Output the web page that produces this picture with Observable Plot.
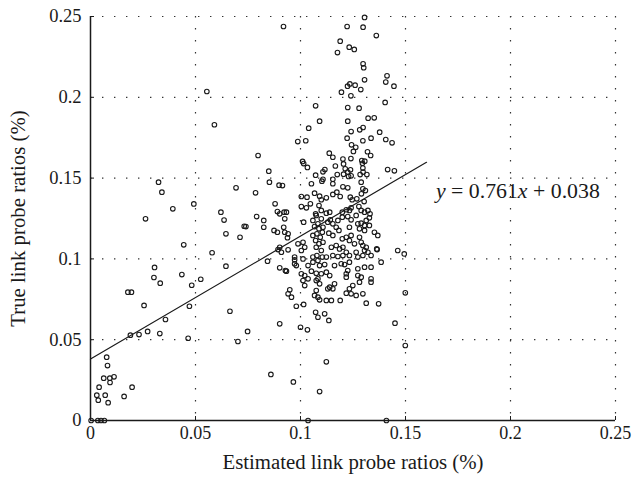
<!DOCTYPE html>
<html>
<head>
<meta charset="utf-8">
<script src="https://cdn.jsdelivr.net/npm/d3@7"></script>
<script src="https://cdn.jsdelivr.net/npm/@observablehq/plot@0.6"></script>
<style>
  html, body { margin: 0; padding: 0; background: #fff; }
</style>
</head>
<body>
<div id="chart"></div>
<script>
// ---- data ----
const estX = [
0.0554,0.059,
0.0324,0.034,0.0693,0.0492,0.0392,0.0621,0.0636,0.0262,0.0732,0.0645,0.0712,0.0444,0.0579,0.0305,0.0645,0.0302,0.0435,0.0332,0.0525,0.0482,
0.0178,0.0195,0.0255,0.0471,0.0664,0.0357,0.019,0.0231,0.0272,0.033,0.0465,0.0702,0.0077,0.0081,0.0063,0.0092,0.0112,0.0093,0.0041,0.0198,0.003,0.007,0.0037,0.0084,0.016,0.0003,0.0035,0.005,0.0066,0.1036,0.1409,
0.1305,0.0919,0.1222,0.1298,0.1361,0.1189,0.1232,0.1256,0.1176,0.1298,0.1301,0.1412,0.1406,0.1445,0.1305,0.1235,0.1224,0.126,0.1287,0.1195,0.124,0.1403,0.1072,0.1225,0.1279,0.1322,0.1351,0.1091,0.1225,0.1039,0.1241,0.1282,0.1298,0.1377,0.1222,0.1336,0.1297,0.1406,0.1436,0.0987,0.1025,0.1243,0.1263,
0.1252,0.1319,0.1334,0.1137,0.1154,0.124,0.1292,0.1306,0.1295,0.101,0.1015,0.1033,0.1202,0.1205,0.1166,0.1213,0.1238,0.1297,0.1298,0.1415,0.1447,0.1107,0.1116,0.1072,0.1175,0.1205,0.1225,0.1241,0.1229,0.1284,0.1316,0.1107,0.1154,
0.0914,0.1052,0.1102,0.1154,0.1202,0.1225,0.1289,0.1297,0.1309,0.1004,0.1031,0.1091,0.1067,0.1099,0.1123,0.1154,0.1173,0.1189,0.1237,0.1246,0.1268,0.129,0.1303,0.1004,0.1028,0.1047,0.1088,0.1099,0.1072,0.1123,0.1139,0.1199,0.1218,0.1233,0.1241,0.1278,0.1289,0.1305,0.1321,0.0901,0.0933,0.0925,0.092,0.0941,0.0925,0.1015,
0.1059,0.1075,0.1083,0.1099,0.1088,0.1107,0.1078,0.1094,0.1072,0.1088,0.1107,0.1075,0.1099,0.1078,0.1104,0.1067,0.1104,0.1059,
0.113,0.1142,0.1154,0.117,0.1178,0.1135,0.1154,0.1183,0.1199,0.1225,0.1241,0.1265,0.1233,0.1273,0.1289,0.1305,0.1313,0.1328,0.1281,0.1305,0.1331,0.1328,0.1352,0.1368,
0.1199,0.1218,0.1233,0.1241,0.1257,0.1281,0.1289,0.1297,0.1313,0.1305,0.1147,0.117,0.1186,0.1202,0.0988,0.1012,0.102,0.1004,
0.1123,0.1154,0.1178,0.1202,0.1218,0.1233,0.1265,0.1273,0.1297,0.1321,0.1336,0.0972,0.1012,0.1059,0.1363,0.1463,0.1494,0.0901,0.0909,
0.0798,0.0849,0.0852,0.0898,0.0786,0.0879,0.089,0.0922,0.0791,0.0825,0.0825,0.0874,0.089,0.0938,0.074,0.0893,0.0941,0.0843,0.0901,0.0928,0.0972,0.0972,0.1384,0.1365,
0.0933,0.098,0.1036,0.1059,0.1083,0.1091,0.1115,0.1162,0.1194,0.121,0.1233,0.1273,0.1305,0.1336,
0.1004,0.102,0.1052,0.1075,0.1099,0.1123,0.1139,0.1225,0.1218,0.1012,0.1036,0.102,0.1075,0.1091,0.1083,0.1139,0.1162,0.1154,0.113,
0.1218,0.1249,0.1273,0.1289,0.1281,0.1336,0.1336,0.1218,0.1241,0.1233,0.1265,0.1297,0.1075,0.1067,0.1083,0.1091,0.1123,0.1147,0.1189,
0.0941,0.0949,0.0957,0.098,0.1015,0.1313,0.1372,0.1499,0.1072,0.1083,0.1115,0.1135,0.0901,0.1,0.1033,0.145,
0.0748,0.1499,0.1123,0.0859,0.0966,0.1091
];
const trueY = [
0.2036,0.183,
0.1475,0.1413,0.144,0.134,0.131,0.1289,0.124,0.1248,0.1202,0.1155,0.1134,0.1087,0.1038,0.0947,0.0955,0.0885,0.0903,0.085,0.0874,0.0837,
0.0794,0.0794,0.0712,0.0707,0.0676,0.0625,0.0528,0.0532,0.0551,0.0538,0.0509,0.0489,0.0392,0.034,0.0262,0.0262,0.027,0.0235,0.0206,0.0206,0.0157,0.0157,0.0126,0.011,0.0149,0,0,0,0,0,0,
0.2494,0.2438,0.2438,0.2434,0.2382,0.2347,0.231,0.2296,0.2277,0.2207,0.2183,0.2133,0.2094,0.2069,0.2108,0.2083,0.2069,0.2075,0.2048,0.2032,0.2009,0.1968,0.1947,0.1937,0.1933,0.1871,0.1873,0.1852,0.1852,0.1809,0.1788,0.1799,0.1813,0.1784,0.1747,0.1747,0.1731,0.1739,0.1718,0.1726,0.1731,0.1706,0.1691,
0.1665,0.1663,0.164,0.1654,0.1629,0.1621,0.1609,0.1605,0.1592,0.1603,0.159,0.1566,0.1618,0.1588,0.1575,0.1558,0.1551,0.1562,0.1537,0.1553,0.1545,0.1539,0.1553,0.1518,0.1522,0.1524,0.1537,0.1514,0.151,0.1522,0.1522,0.1493,0.1493,
0.1454,0.1465,0.1481,0.1465,0.1446,0.144,0.1475,0.1434,0.1423,0.1386,0.1382,0.1388,0.1407,0.1366,0.1378,0.1399,0.1413,0.1386,0.1382,0.1366,0.1372,0.1403,0.1355,0.1324,0.1316,0.1341,0.133,0.13,0.1279,0.1283,0.1289,0.1289,0.1304,0.13,0.1316,0.1324,0.13,0.1289,0.13,0.1279,0.1289,0.1248,0.1196,0.1155,0.1165,0.1227,
0.1238,0.1269,0.1217,0.1248,0.1186,0.1196,0.1155,0.1134,0.1114,0.1093,0.1103,0.1072,0.1052,0.1021,0.1011,0.12,0.1165,0.1145,
0.1227,0.1242,0.1217,0.1196,0.1238,0.1159,0.1145,0.1176,0.1258,0.1262,0.1242,0.1269,0.1196,0.1217,0.1221,0.1207,0.1238,0.1254,0.1186,0.1176,0.1279,0.1207,0.1165,0.1145,
0.1124,0.1134,0.1114,0.1145,0.1093,0.1134,0.1103,0.1083,0.1072,0.1052,0.1072,0.1083,0.1062,0.1072,0.1093,0.1103,0.1072,0.1052,
0.1011,0.1021,0.1015,0.1021,0.1041,0.1021,0.1041,0.1011,0.1021,0.1041,0.1021,0.1011,0.1,0.1011,0.1062,0.1052,0.1031,0.1072,0.1041,
0.164,0.1543,0.1475,0.1456,0.1409,0.1341,0.1293,0.1289,0.1262,0.1238,0.1196,0.1176,0.1165,0.1131,0.12,0.1058,0.1056,0.0986,0.0945,0.0928,0.0994,0.097,0.098,0.1058,
0.0924,0.0959,0.0959,0.098,0.099,0.0959,0.0965,0.0959,0.097,0.0965,0.098,0.0939,0.0949,0.0949,
0.0908,0.0897,0.0924,0.0911,0.0908,0.0918,0.0897,0.0928,0.0908,0.0866,0.0877,0.0835,0.0866,0.0846,0.0877,0.0825,0.0846,0.0815,0.0815,
0.0887,0.0835,0.0897,0.0887,0.0856,0.0877,0.0856,0.0788,0.0784,0.0815,0.0774,0.0784,0.0804,0.0774,0.0763,0.0747,0.0743,0.0743,0.0743,
0.0784,0.0809,0.0763,0.0707,0.0718,0.0726,0.0722,0.079,0.067,0.0639,0.066,0.0619,0.0598,0.0577,0.0561,0.0602,
0.0551,0.0464,0.0363,0.0285,0.0239,0.0179
];

const slope = 0.761;
const intercept = 0.038;
const fitX = [0, 0.16];

const xTicks = [0, 0.05, 0.1, 0.15, 0.2, 0.25];
const xTickLabels = ["0", "0.05", "0.1", "0.15", "0.2", "0.25"];
const yTicks = [0, 0.05, 0.1, 0.15, 0.2, 0.25];
const yTickLabels = ["0", "0.05", "0.1", "0.15", "0.2", "0.25"];
const gridVals = [0.05, 0.1, 0.15, 0.2, 0.25];

const xTitle = "Estimated link probe ratios (%)";
const yTitle = "True link probe ratios (%)";
const eqParts = ["y", " = " + slope + "", "x", " + " + intercept.toFixed(3)];
const eqPos = {x: [0.1645], y: [0.1417]};

// ---- build tables ----
const points = estX.map((x, i) => ({x, y: trueY[i]}));
const fitLine = fitX.map(x => ({x, y: slope * x + intercept}));
const eqText = eqParts.join("");

const ink = "#1a1a1a";
const FONT = "'Liberation Serif', 'DejaVu Serif', serif";

const chart = Plot.plot({
  width: 632,
  height: 488,
  marginLeft: 90,
  marginRight: 17,
  marginTop: 16,
  marginBottom: 68,
  x: {domain: [0, 0.25]},
  y: {domain: [0, 0.25]},
  style: {fontFamily: FONT, fontSize: "18px", color: ink, background: "#fff", overflow: "visible"},
  marks: [
    Plot.ruleX(gridVals, {stroke: "#333", strokeWidth: 1.2, strokeDasharray: "1.4,10.6"}),
    Plot.ruleY(gridVals, {stroke: "#333", strokeWidth: 1.2, strokeDasharray: "1.4,10.6"}),
    Plot.ruleX(xTicks, {x: d => d, y1: 0, y2: 0, insetBottom: 4, stroke: ink, strokeWidth: 1}),
    Plot.ruleY(yTicks, {y: d => d, x1: 0, x2: 0, insetRight: -4, stroke: ink, strokeWidth: 1}),
    Plot.ruleY([0], {stroke: ink, strokeWidth: 1.5}),
    Plot.ruleX([0], {stroke: ink, strokeWidth: 1.5}),
    Plot.axisX(xTicks, {label: null, tickSize: 0, tickPadding: 6, fontSize: 18, tickFormat: d => xTickLabels[xTicks.indexOf(d)]}),
    Plot.axisY(yTicks, {label: null, tickSize: 0, tickPadding: 9, fontSize: 18.5, tickFormat: d => yTickLabels[yTicks.indexOf(d)]}),
    Plot.line(fitLine, {x: "x", y: "y", stroke: ink, strokeWidth: 1.2}),
    Plot.dot(points, {x: "x", y: "y", r: 2.3, stroke: ink, strokeWidth: 1.1, fill: "none"}),
    Plot.text([eqText], {x: eqPos.x, y: eqPos.y, text: d => d, textAnchor: "start", fontSize: 21.8, fill: ink}),
    Plot.text([xTitle], {frameAnchor: "bottom", dy: 48, text: d => d, fontSize: 20.8, fill: ink}),
    Plot.text([yTitle], {frameAnchor: "left", textAnchor: "middle", dx: -72, rotate: -90, text: d => d, fontSize: 20.8, fill: ink})
  ]
});

// italic variables in the equation
d3.select(chart).selectAll("text").filter(function() { return this.textContent === eqText; }).each(function() {
  const t = d3.select(this);
  t.text(null).attr("xml:space", "preserve");
  eqParts.forEach((p, i) => {
    t.append("tspan").attr("font-style", i % 2 === 0 ? "italic" : "normal").text(p);
  });
});

document.getElementById("chart").appendChild(chart);
</script>
</body>
</html>
